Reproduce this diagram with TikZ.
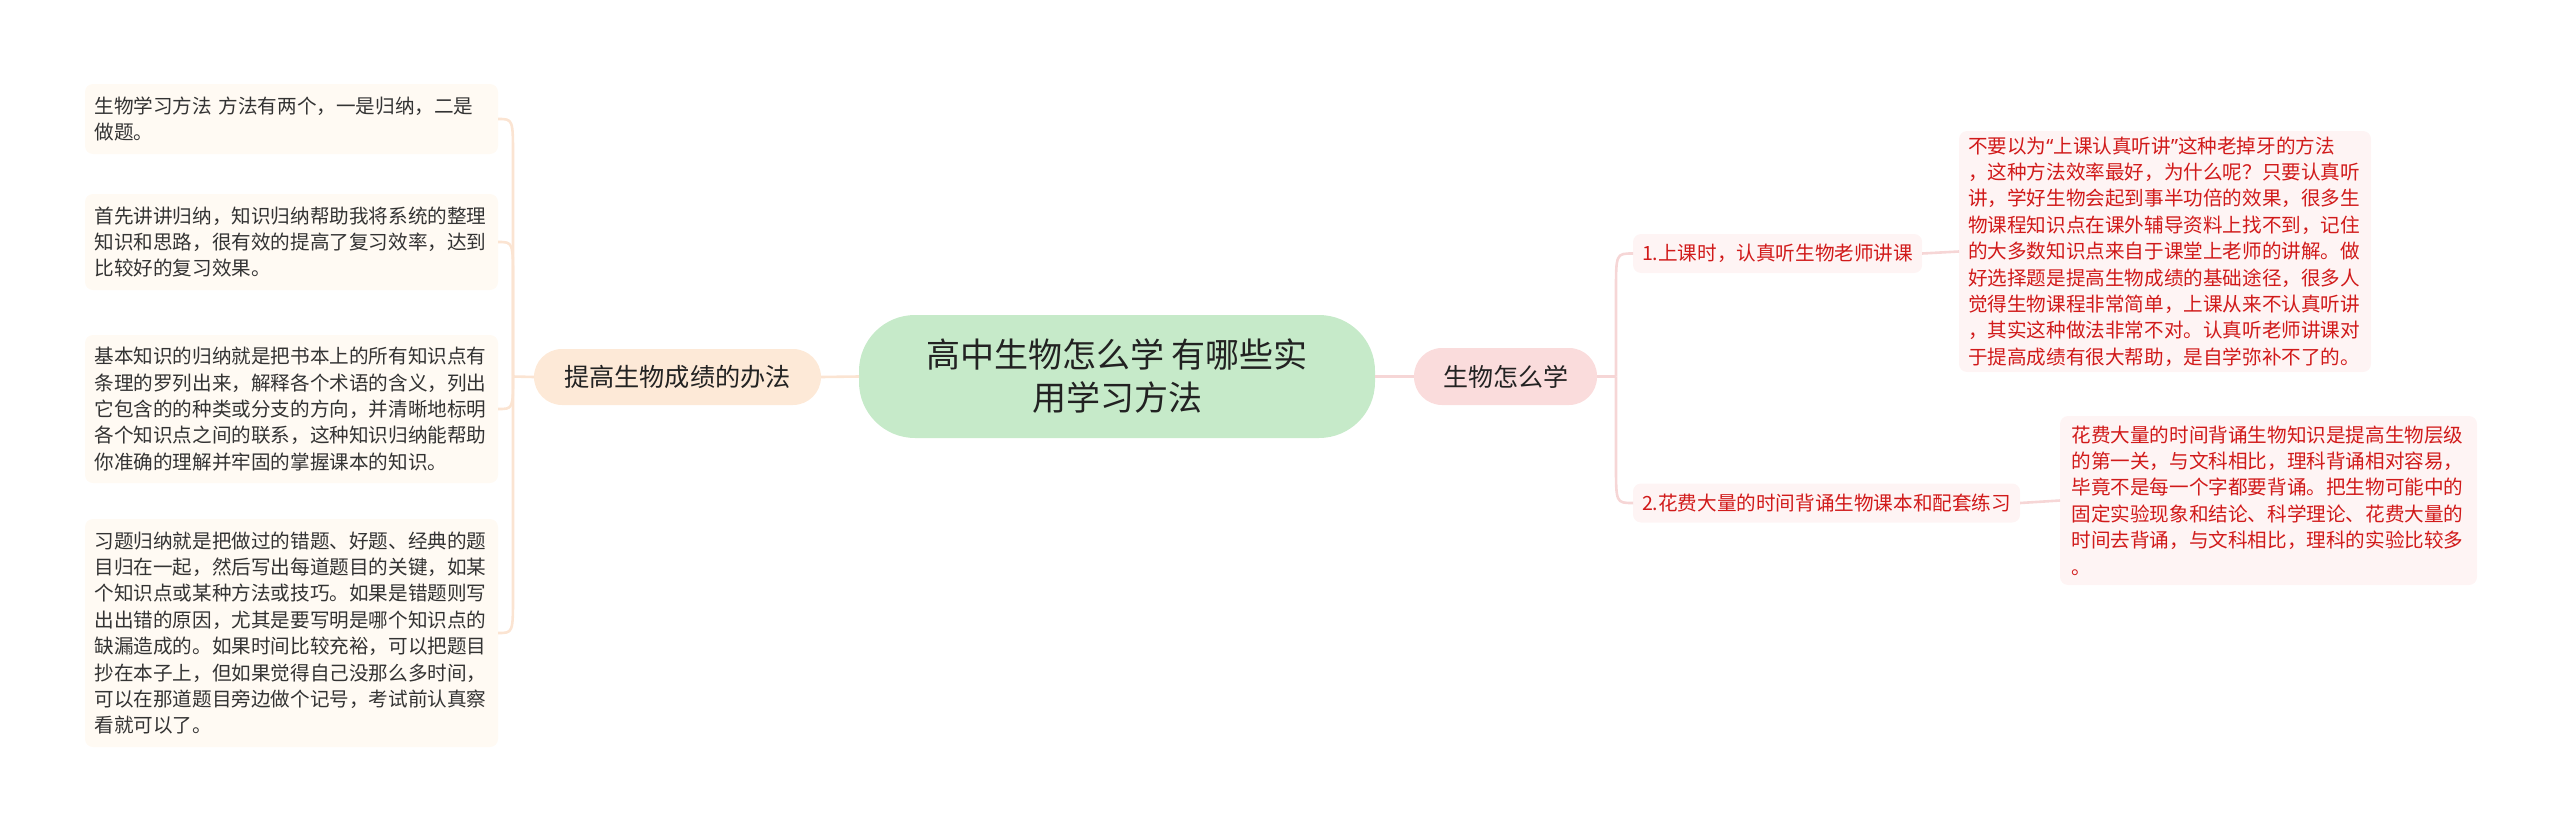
\documentclass[tikz,border=0pt]{standalone}
\usepackage{fontspec}
\setmainfont{Noto Sans CJK SC}
\newfontfamily\latinq{Noto Sans}
\usetikzlibrary{calc}
\definecolor{cgreen}{HTML}{C6EAC9}
\definecolor{cpeach}{HTML}{FDE9D7}
\definecolor{cpink}{HTML}{FADCDC}
\definecolor{ccream}{HTML}{FFFAF3}
\definecolor{crbox}{HTML}{FEF4F4}
\definecolor{lpeach}{HTML}{FBE4D2}
\definecolor{lpink}{HTML}{F6D6D6}
\definecolor{cred}{HTML}{D11A1A}
\definecolor{cdark}{HTML}{222222}
\definecolor{cgray}{HTML}{333333}
\begin{document}
\begin{tikzpicture}[x=0.5pt,y=-0.5pt,
  every node/.style={inner sep=0pt, outer sep=0pt},
  small/.style={font=\fontsize{9.8pt}{13.2pt}\selectfont},
  lbox/.style={small, fill=ccream, rounded corners=4pt, text width=197pt, inner xsep=4.75pt, align=left, text=cgray},
  rbox/.style={small, fill=crbox, rounded corners=4pt, text width=197pt, align=left, text=cred},
  lab/.style={small, fill=crbox, rounded corners=4pt, inner xsep=4.5pt, minimum height=19.5pt, text=cred, anchor=west},
  lline/.style={draw=lpeach, line width=1.3pt},
  rline/.style={draw=lpink, line width=1.3pt}]
\useasboundingbox (0,0) rectangle (2560,830);

% central
\node[fill=cgreen, rounded corners=28pt, minimum width=258pt, minimum height=61.5pt, align=center,
  font=\fontsize{17pt}{21.5pt}\selectfont, text=cdark] (root) at (1117,376.5)
  {高中生物怎么学 有哪些实\\用学习方法};

% left branch
\node[fill=cpeach, rounded corners=14pt, minimum width=143.5pt, minimum height=28pt,
  font=\fontsize{12.6pt}{15pt}\selectfont, text=cdark] (tg) at (677.5,377) {提高生物成绩的办法};

\node[lbox, minimum height=35pt] (b1) at (291.5,119)
  {生物学习方法 方法有两个，一是归纳，二是\\做题。};
\node[lbox, minimum height=48pt] (b2) at (291.5,242)
  {首先讲讲归纳，知识归纳帮助我将系统的整理\\知识和思路，很有效的提高了复习效率，达到\\比较好的复习效果。};
\node[lbox, minimum height=74pt] (b3) at (291.5,409)
  {基本知识的归纳就是把书本上的所有知识点有\\条理的罗列出来，解释各个术语的含义，列出\\它包含的的种类或分支的方向，并清晰地标明\\各个知识点之间的联系，这种知识归纳能帮助\\你准确的理解并牢固的掌握课本的知识。};
\node[lbox, minimum height=114pt] (b4) at (291.5,633)
  {习题归纳就是把做过的错题、好题、经典的题\\目归在一起，然后写出每道题目的关键，如某\\个知识点或某种方法或技巧。如果是错题则写\\出出错的原因，尤其是要写明是哪个知识点的\\缺漏造成的。如果时间比较充裕，可以把题目\\抄在本子上，但如果觉得自己没那么多时间，\\可以在那道题目旁边做个记号，考试前认真察\\看就可以了。};

% right branch
\node[fill=cpink, rounded corners=14pt, minimum width=91.5pt, minimum height=28.5pt,
  font=\fontsize{12.5pt}{15pt}\selectfont, text=cdark] (sw) at (1505.5,376.5) {生物怎么学};

\node[lab] (c1) at (1633,253.5) {1.上课时，认真听生物老师讲课};
\node[lab] (c2) at (1633,503) {2.花费大量的时间背诵生物课本和配套练习};

\node[rbox, inner xsep=4.5pt, minimum height=120.5pt] (r1) at (2165,251.5)
  {不要以为{\latinq “}上课认真听讲{\latinq ”}这种老掉牙的方法\\，这种方法效率最好，为什么呢？只要认真听\\讲，学好生物会起到事半功倍的效果，很多生\\物课程知识点在课外辅导资料上找不到，记住\\的大多数知识点来自于课堂上老师的讲解。做\\好选择题是提高生物成绩的基础途径，很多人\\觉得生物课程非常简单，上课从来不认真听讲\\，其实这种做法非常不对。认真听老师讲课对\\于提高成绩有很大帮助，是自学弥补不了的。};
\node[rbox, inner xsep=5.75pt, minimum height=84.5pt] (r2) at (2268.5,500.5)
  {花费大量的时间背诵生物知识是提高生物层级\\的第一关，与文科相比，理科背诵相对容易，\\毕竟不是每一个字都要背诵。把生物可能中的\\固定实验现象和结论、科学理论、花费大量的\\时间去背诵，与文科相比，理科的实验比较多\\。};

% junctions
\coordinate (jL) at (513,376.5);
\coordinate (jR) at (1616,376.5);

% connectors
\draw[lline] (root.west) -- (tg.east);
\draw[lline] (tg.west) -- (jL);
\draw[lline] (jL) -- ($(jL|-b1.east)+(0,38)$) .. controls ($(jL|-b1.east)$) .. (b1.east);
\draw[lline] (jL) -- ($(jL|-b2.east)+(0,38)$) .. controls ($(jL|-b2.east)$) .. (b2.east);
\draw[lline] (jL) .. controls ($(jL|-b3.east)$) .. (b3.east);
\draw[lline] (jL) -- ($(jL|-b4.east)+(0,-38)$) .. controls ($(jL|-b4.east)$) .. (b4.east);

\draw[rline] (root.east) -- (sw.west);
\draw[rline] (sw.east) -- (jR);
\draw[rline] (jR) -- ($(jR|-c1.west)+(0,38)$) .. controls ($(jR|-c1.west)$) .. (c1.west);
\draw[rline] (jR) -- ($(jR|-c2.west)+(0,-38)$) .. controls ($(jR|-c2.west)$) .. (c2.west);
\draw[rline] (c1.east) -- (r1.west);
\draw[rline] (c2.east) -- (r2.west);
\end{tikzpicture}
\end{document}
